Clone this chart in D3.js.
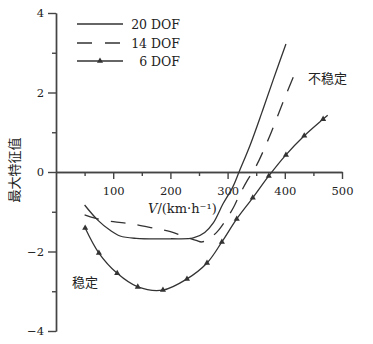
<!DOCTYPE html>
<html>
<head>
<meta charset="utf-8">
<script src="https://cdn.jsdelivr.net/npm/d3@7"></script>
<style>
  body { margin: 0; background: #fff; }
  svg text { fill: #222; }
</style>
</head>
<body>
<div class="chart"></div>
<script>
//Chart data (speed in km/h, largest eigenvalue)
var speed20 = [50, 73, 94, 112, 140, 200, 240, 260, 275, 292, 309, 320, 340, 360, 380, 402];
var eig20   = [-0.83, -1.21, -1.46, -1.61, -1.67, -1.68, -1.66, -1.52, -1.28, -0.8, -0.38, 0, 0.7, 1.5, 2.33, 3.22];

var speed14 = [50, 68, 100, 130, 170, 200, 220, 245, 255, 269, 282, 295, 310, 320, 335, 350, 372, 397, 418];
var eig14   = [-1.08, -1.16, -1.25, -1.3, -1.41, -1.5, -1.6, -1.72, -1.76, -1.66, -1.5, -1.25, -0.9, -0.6, -0.2, 0.15, 0.85, 1.76, 2.5];

var speed6 = [51, 75, 107, 143, 187, 229, 264, 290, 316, 344, 372, 402, 434, 467, 475];
var eig6   = [-1.41, -2.04, -2.55, -2.89, -2.97, -2.69, -2.29, -1.76, -1.18, -0.65, -0.1, 0.43, 0.91, 1.33, 1.43];
var markerCount6 = 14; // markers on every point except the end

var legendNames = ["20 DOF", "14 DOF", "6 DOF"];
var xTicks = [100, 200, 300, 400, 500];
var xMinor = [50, 150, 250, 350, 450];
var yTicks = [-4, -2, 0, 2, 4];
var yMinor = [-3, -1, 1, 3];

//Width and height
var w = 373;
var h = 344;

var x = d3.scaleLinear().domain([0, 500]).range([56, 342]);
var y = d3.scaleLinear().domain([-4, 4]).range([331, 13]);

var svg = d3.select(".chart")
            .append("svg")
            .attr("width", w)
            .attr("height", h);

var ink = "#333";

//Y axis, major and minor ticks
svg.append("g")
  .attr("transform", "translate(" + x(0) + ",0)")
  .call(d3.axisLeft(y).tickValues(yTicks).tickSize(8).tickSizeOuter(0).tickPadding(4)
          .tickFormat(d3.format("d")));
svg.append("g")
  .attr("transform", "translate(" + x(0) + ",0)")
  .call(d3.axisLeft(y).tickValues(yMinor).tickSize(4).tickSizeOuter(0).tickFormat(""));

//X axis along zero
svg.append("g")
  .attr("transform", "translate(0," + y(0) + ")")
  .call(d3.axisBottom(x).tickValues(xTicks).tickSize(7).tickSizeOuter(0).tickPadding(8));
svg.append("g")
  .attr("transform", "translate(0," + y(0) + ")")
  .call(d3.axisBottom(x).tickValues(xMinor).tickSize(4).tickSizeOuter(0).tickFormat(""));

svg.selectAll(".domain, .tick line")
  .attr("stroke", "#444")
  .attr("stroke-width", 1.4);
svg.selectAll(".tick text")
  .style("font-family", "'DejaVu Serif', serif")
  .style("font-size", "11.5px")
  .attr("fill", "#222");

//Curves
var line = d3.line()
  .x(function(d) { return x(d[0]); })
  .y(function(d) { return y(d[1]); })
  .curve(d3.curveCatmullRom.alpha(0.5));

var pts20 = d3.zip(speed20, eig20);
var pts14 = d3.zip(speed14, eig14);
var pts6 = d3.zip(speed6, eig6);

svg.append("path").attr("d", line(pts20))
  .attr("fill", "none").attr("stroke", ink).attr("stroke-width", 1.3);
svg.append("path").attr("d", line(pts14))
  .attr("fill", "none").attr("stroke", ink).attr("stroke-width", 1.3)
  .attr("stroke-dasharray", "15,12");
svg.append("path").attr("d", line(pts6))
  .attr("fill", "none").attr("stroke", ink).attr("stroke-width", 1.3);

var tri = d3.symbol().type(d3.symbolTriangle).size(16);
svg.selectAll(".mark6")
  .data(pts6.slice(0, markerCount6))
  .enter()
  .append("path")
  .attr("class", "mark6")
  .attr("d", tri)
  .attr("transform", function(d) { return "translate(" + x(d[0]) + "," + y(d[1]) + ")"; })
  .attr("fill", ink);

//Legend
var legY = [24, 43, 61];
var leg = svg.append("g");
leg.selectAll("line")
  .data(legendNames)
  .enter()
  .append("line")
  .attr("x1", 77).attr("x2", 123)
  .attr("y1", function(d, i) { return legY[i]; })
  .attr("y2", function(d, i) { return legY[i]; })
  .attr("stroke", ink)
  .attr("stroke-width", 1.3)
  .attr("stroke-dasharray", function(d, i) { return i == 1 ? "15,13" : null; });
leg.append("path").attr("d", tri)
  .attr("transform", "translate(100," + legY[2] + ")")
  .attr("fill", ink);
leg.selectAll("text")
  .data(legendNames)
  .enter()
  .append("text")
  .attr("x", 180)
  .attr("y", function(d, i) { return legY[i] + 4.5; })
  .attr("text-anchor", "end")
  .style("font-family", "'DejaVu Serif', serif")
  .style("font-size", "12.5px")
  .text(function(d) { return d; });

//Axis titles and annotations
var xt = svg.append("text")
  .attr("x", 148).attr("y", 213)
  .style("font-family", "'DejaVu Serif', serif")
  .style("font-size", "13px");
xt.append("tspan").style("font-style", "italic").text("V");
xt.append("tspan").text("/(km·h⁻¹)");

svg.append("text")
  .attr("transform", "translate(19,170) rotate(-90)")
  .attr("text-anchor", "middle")
  .style("font-family", "'Noto Sans CJK SC', sans-serif")
  .style("font-size", "13px")
  .text("最大特征值");

svg.append("text")
  .attr("x", 308).attr("y", 83)
  .style("font-family", "'Noto Sans CJK SC', sans-serif")
  .style("font-size", "13px")
  .text("不稳定");

svg.append("text")
  .attr("x", 72).attr("y", 287)
  .style("font-family", "'Noto Sans CJK SC', sans-serif")
  .style("font-size", "13px")
  .text("稳定");
</script>
</body>
</html>
